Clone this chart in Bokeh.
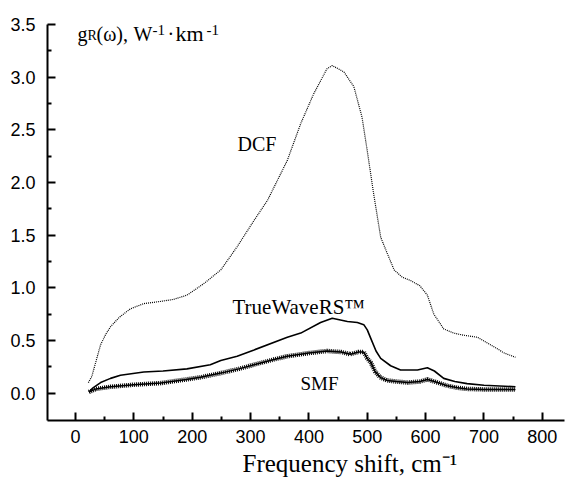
from bokeh.plotting import figure
from bokeh.models import Range1d, FixedTicker, Label, Title
from bokeh.embed import file_html
from bokeh.resources import INLINE

# ---- data ----
dcf_shift = [22, 28, 35, 43, 52, 60, 75, 94, 117, 145, 168, 191, 220, 249, 277, 306, 329,
             363, 386, 408, 431, 440, 460, 477, 491, 500, 511, 523, 534, 546, 560, 574, 590,
             603, 614, 631, 648, 665, 689, 717, 735, 754]
dcf_gain = [0.10, 0.16, 0.30, 0.46, 0.56, 0.63, 0.72, 0.80, 0.85, 0.87, 0.89, 0.93, 1.04, 1.17,
            1.39, 1.64, 1.83, 2.21, 2.56, 2.84, 3.08, 3.11, 3.05, 2.91, 2.62, 2.30, 1.89, 1.48,
            1.33, 1.17, 1.10, 1.07, 1.02, 0.93, 0.75, 0.61, 0.57, 0.55, 0.53, 0.44, 0.38, 0.34]

tw_shift = [23, 30, 43, 60, 77, 117, 150, 191, 231, 249, 277, 306, 363, 386, 420, 440, 466,
            483, 494, 500, 506, 515, 523, 540, 557, 586, 603, 615, 631, 650, 671, 700, 754]
tw_gain = [0.01, 0.05, 0.10, 0.14, 0.17, 0.20, 0.21, 0.23, 0.27, 0.31, 0.35, 0.41, 0.53, 0.57,
           0.67, 0.71, 0.68, 0.67, 0.65, 0.60, 0.52, 0.40, 0.33, 0.26, 0.22, 0.22, 0.24, 0.21,
           0.14, 0.11, 0.09, 0.075, 0.06]

smf_shift = [23, 35, 60, 100, 146, 190, 214, 249, 280, 306, 340, 363, 400, 431, 455, 471, 485,
             494, 500, 506, 514, 522, 534, 550, 569, 590, 603, 615, 637, 655, 671, 700, 754]
smf_gain = [0.01, 0.04, 0.06, 0.08, 0.095, 0.13, 0.15, 0.19, 0.23, 0.27, 0.32, 0.35, 0.38, 0.40,
            0.39, 0.37, 0.39, 0.39, 0.33, 0.29, 0.20, 0.15, 0.12, 0.11, 0.10, 0.11, 0.13, 0.11,
            0.07, 0.05, 0.04, 0.035, 0.035]

x_ticks = [0, 100, 200, 300, 400, 500, 600, 700, 800]
x_minor = [50, 150, 250, 350, 450, 550, 650, 750]
y_ticks = [0.0, 0.5, 1.0, 1.5, 2.0, 2.5, 3.0, 3.5]
y_minor = [0.25, 0.75, 1.25, 1.75, 2.25, 2.75, 3.25]
y_tick_labels = ["0.0", "0.5", "1.0", "1.5", "2.0", "2.5", "3.0", "3.5"]
x_title = "Frequency shift, cm\u207b\u00b9"

SERIF = "Liberation Serif"
SANS = "Liberation Sans"

p = figure(width=566, height=485, output_backend="svg", toolbar_location=None,
           x_range=Range1d(-48, 838), y_range=Range1d(-0.26, 3.5),
           min_border_left=47, min_border_right=2, min_border_top=24, min_border_bottom=65)
p.outline_line_color = None
p.xgrid.visible = False
p.ygrid.visible = False
p.background_fill_color = "white"
p.border_fill_color = "white"

for ax in (p.xaxis[0], p.yaxis[0]):
    ax.axis_line_width = 2
    ax.axis_line_color = "black"
    ax.major_tick_line_width = 2
    ax.minor_tick_line_width = 2
    ax.major_tick_line_color = "black"
    ax.minor_tick_line_color = "black"
    ax.major_tick_in = 8
    ax.major_tick_out = 0
    ax.minor_tick_in = 4
    ax.minor_tick_out = 0
    ax.major_label_text_font = SANS
    ax.major_label_text_font_size = "18px"
    ax.major_label_text_color = "black"

p.xaxis[0].ticker = FixedTicker(ticks=x_ticks, minor_ticks=x_minor)
p.yaxis[0].ticker = FixedTicker(ticks=y_ticks, minor_ticks=y_minor)
p.yaxis[0].major_label_overrides = {t: l for t, l in zip(y_ticks, y_tick_labels)}
p.xaxis[0].major_label_standoff = 9
p.yaxis[0].major_label_standoff = 12

# x title as a left-aligned title below the axis
p.add_layout(Title(text=x_title, align="left", offset=195, text_font=SERIF,
                   text_font_size="25px", text_font_style="normal", text_color="black",
                   standoff=5), "below")

# curves
p.line(dcf_shift, dcf_gain, line_color="black", line_width=1.2, line_dash="1 1")
p.line(tw_shift, tw_gain, line_color="black", line_width=1.6)
p.line(smf_shift, smf_gain, line_color="black", line_width=1.5)
p.line(smf_shift, smf_gain, line_color="black", line_width=4.5, line_dash="1 1")


def txt(s, x, y, size, font=SERIF):
    p.add_layout(Label(x=x, y=y, x_units="screen", y_units="screen", text=s,
                       text_font=font, text_font_size=size, text_color="black",
                       text_align="left", text_baseline="alphabetic"))


# y title (top-left, inside frame); positions relative to the frame
txt("g", 30, 387, "20px")
txt("R", 40, 385.5, "14px")
txt("(\u03c9),", 49, 387, "20px")
txt("W", 86, 387, "20px")
txt("-1", 105, 391, "15px")
txt("\u00b7", 120, 387, "20px")
txt("km", 128, 387, "22px")
txt("-1", 159, 391, "15px")

# curve labels
txt("DCF", 190, 276.7, "20px")
txt("TrueWaveRS\u2122", 185, 113.3, "21px")
txt("SMF", 253, 36.7, "19px")

open("out.html", "w").write(file_html(p, INLINE))
